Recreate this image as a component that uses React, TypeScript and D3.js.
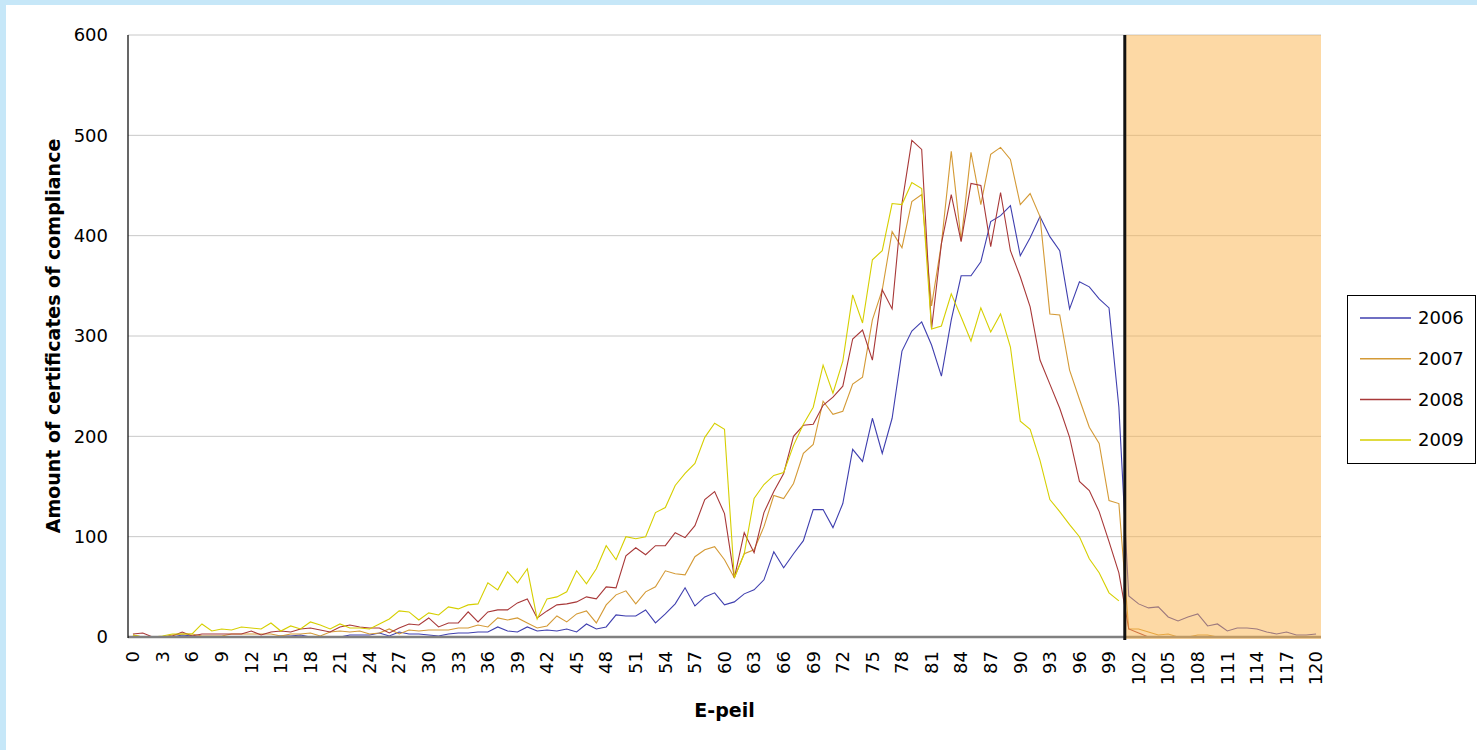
import React from "react";
import * as d3 from "d3";

const categories: number[] = Array.from({ length: 121 }, (_, i) => i);
const yTicks = [0, 100, 200, 300, 400, 500, 600];
const seriesNames = ["2006", "2007", "2008", "2009"];

const s2006: (number | null)[] = [
  0, 0, 0, 0, 0, 2, 1, 0, 0, 0, 0, 0, 0, 0, 0, 1, 1, 2, 0, 0,
  0, 0, 2, 2, 2, 4, 1, 5, 3, 3, 2, 1, 3, 4, 4, 5, 5, 10, 6, 5,
  10, 6, 7, 6, 8, 5, 13, 8, 10, 22, 21, 21, 27, 14, 23, 33, 49, 31, 40, 44,
  32, 35, 43, 47, 57, 85, 69, 83, 96, 127, 127, 109, 133, 187, 175, 218, 183, 218, 285, 305,
  314, 291, 260, 316, 360, 360, 374, 414, 420, 430, 380, 398, 419, 399, 385, 327, 354, 349, 337, 328,
  229, 41, 33, 29, 30, 20, 16, 20, 23, 11, 13, 6, 9, 9, 8, 5, 3, 5, 2, 2,
  3,
];

const s2007: (number | null)[] = [
  2, 0, 0, 0, 2, 3, 3, 1, 1, 1, 3, 3, 3, 3, 3, 1, 3, 3, 4, 1,
  5, 6, 5, 6, 3, 4, 8, 3, 7, 6, 7, 7, 7, 9, 9, 12, 10, 19, 17, 19,
  14, 9, 11, 21, 15, 23, 26, 14, 32, 42, 46, 33, 45, 50, 66, 63, 62, 80, 87, 90,
  77, 59, 83, 87, 110, 141, 138, 153, 183, 192, 235, 222, 225, 252, 259, 316, 346, 404, 388, 434,
  441, 330, 392, 484, 395, 483, 431, 481, 488, 476, 431, 442, 419, 322, 321, 266, 237, 209, 193, 136,
  133, 8, 8, 5, 2, 3, 0, 0, 2, 2, 0, 0, 0, 0, 0, 0, 0, 0, 0, 0,
  0,
];

const s2008: (number | null)[] = [
  3, 4, 0, 0, 1, 5, 1, 3, 3, 3, 3, 3, 6, 2, 5, 6, 5, 8, 9, 7,
  5, 10, 12, 10, 9, 9, 4, 9, 13, 12, 19, 10, 14, 14, 25, 15, 25, 27, 27, 34,
  38, 19, 26, 32, 33, 35, 40, 38, 50, 49, 81, 89, 82, 91, 91, 104, 99, 111, 137, 145,
  123, 59, 104, 84, 124, 145, 163, 200, 211, 212, 231, 239, 250, 297, 306, 276, 346, 327, 432, 495,
  486, 307, 392, 441, 394, 452, 450, 389, 443, 385, 359, 329, 276, 252, 228, 199, 155, 146, 125, 95,
  64, 8, 4, 0, 0, 0, 0, 0, 0, 0, 0, 0, 0, 0, 0, 0, 0, 0, 0, 0,
  0,
];

const s2009: (number | null)[] = [
  2, 0, 0, 1, 3, 3, 3, 13, 6, 8, 7, 10, 9, 8, 14, 6, 11, 8, 15, 12,
  8, 13, 9, 9, 8, 13, 18, 26, 25, 17, 24, 22, 30, 28, 32, 33, 54, 47, 65, 54,
  68, 18, 38, 40, 45, 66, 53, 68, 91, 77, 100, 98, 100, 124, 129, 151, 163, 173, 199, 213,
  207, 59, 83, 138, 152, 161, 164, 191, 212, 229, 271, 243, 275, 341, 313, 376, 385, 432, 431, 453,
  447, 307, 310, 342, 319, 295, 328, 304, 322, 289, 215, 207, 176, 137, 125, 112, 100, 78, 64, 44,
  36, null, null, null, null, null, null, null, null, null, null, null, null, null, null, null, null, null, null, null,
  null,
];

const boundaryCategory = 100.6;

const allSeries = [s2006, s2007, s2008, s2009];
const colors = ["#3F3FAF", "#D49A36", "#A83838", "#D6CF00"];

export default function App() {
  const W = 1477;
  const H = 750;
  const left = 128;
  const right = 1321;
  const top = 35;
  const bottom = 637;

  const x = d3.scaleLinear().domain([-0.5, categories.length - 0.5]).range([left, right]);
  const y = d3.scaleLinear().domain([0, 600]).range([bottom, top]);

  const line = d3
    .line<number | null>()
    .defined((d) => d !== null)
    .x((_, i) => x(categories[i]))
    .y((d) => y(d as number));

  const font = "'DejaVu Sans', Verdana, sans-serif";
  const bx = x(boundaryCategory);

  return (
    <div>
      <style>{`body{margin:0;}`}</style>
      <svg width={W} height={H} style={{ display: "block" }}>
        <rect x={0} y={0} width={W} height={H} fill="#C6E7F8" />
        <rect x={6} y={5} width={W - 6} height={H - 5} fill="#FFFFFF" />

        {yTicks.map((t) => (
          <line key={"g" + t} x1={left} x2={right} y1={y(t)} y2={y(t)} stroke="#C8C8C8" strokeWidth={1} />
        ))}

        {allSeries.map((s, k) => (
          <path key={seriesNames[k]} d={line(s) || ""} fill="none" stroke={colors[k]} strokeWidth={1.1} />
        ))}

        <line x1={left} x2={right} y1={bottom} y2={bottom} stroke="#808080" strokeWidth={2.5} />
        <line x1={left} x2={left} y1={top} y2={bottom + 1} stroke="#000000" strokeWidth={1.2} />

        <rect x={bx} y={top} width={right - bx} height={bottom - top + 2} fill="#FBB34B" opacity={0.5} />
        <line x1={bx} x2={bx} y1={top} y2={bottom + 3} stroke="#111111" strokeWidth={3} />

        {yTicks.map((t) => (
          <text key={"yt" + t} x={108} y={y(t)} dy="0.35em" textAnchor="end" fontFamily={font} fontSize={18} fill="#000">
            {t}
          </text>
        ))}

        {categories.filter((c) => c % 3 === 0).map((c) => (
          <text
            key={"xt" + c}
            transform={`translate(${x(c)},651) rotate(-90)`}
            dy="0.35em"
            textAnchor="end"
            fontFamily={font}
            fontSize={18}
            fill="#000"
          >
            {c}
          </text>
        ))}

        <text
          transform={`translate(53,${(top + bottom) / 2}) rotate(-90)`}
          textAnchor="middle"
          dy="0.35em"
          fontFamily={font}
          fontWeight="bold"
          fontSize={19}
          fill="#000"
        >
          Amount of certificates of compliance
        </text>
        <text x={(left + right) / 2} y={710} dy="0.35em" textAnchor="middle" fontFamily={font} fontWeight="bold" fontSize={19} fill="#000">
          E-peil
        </text>

        <rect x={1347.5} y={295.5} width={128} height={168} fill="#FFFFFF" stroke="#000" strokeWidth={1} />
        {seriesNames.map((n, k) => {
          const ly = 318 + k * 40.7;
          return (
            <g key={"lg" + n}>
              <line x1={1360} x2={1411} y1={ly} y2={ly} stroke={colors[k]} strokeWidth={1.5} />
              <text x={1418} y={ly} dy="0.35em" fontFamily={font} fontSize={18} fill="#000">
                {n}
              </text>
            </g>
          );
        })}
      </svg>
    </div>
  );
}
